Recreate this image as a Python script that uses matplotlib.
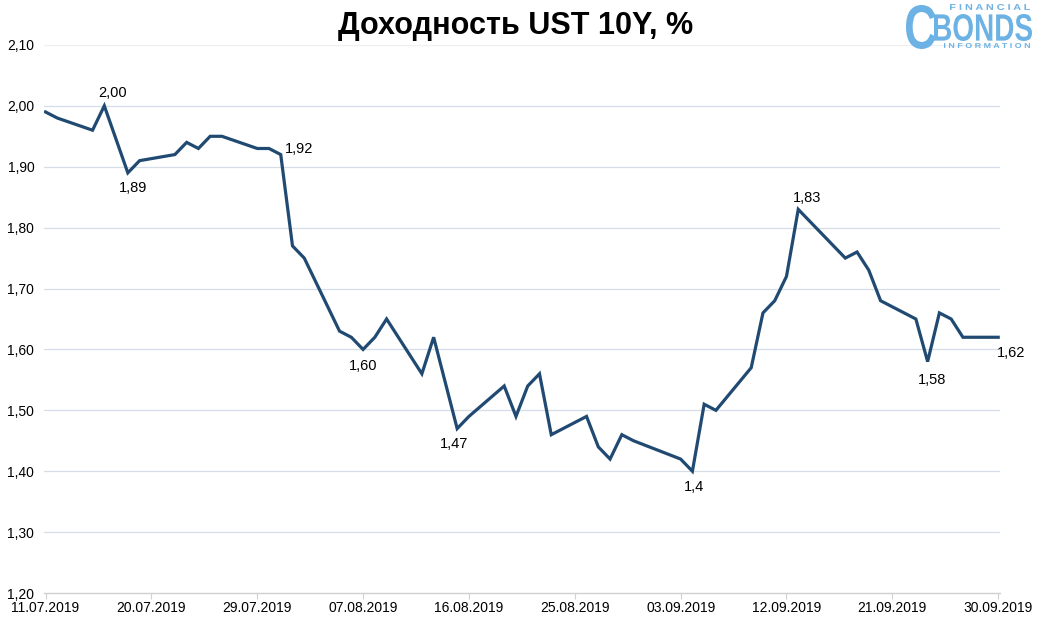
import matplotlib
matplotlib.use("Agg")
import matplotlib.pyplot as plt
import matplotlib.dates as mdates
from matplotlib.ticker import FuncFormatter
from matplotlib.textpath import TextPath
from matplotlib.patches import PathPatch
from matplotlib.font_manager import FontProperties
from matplotlib.transforms import Affine2D, IdentityTransform
import pandas as pd

# UST 10Y yield, business days 11.07.2019 - 30.09.2019
dates = ['11.07', '12.07', '15.07', '16.07', '18.07', '19.07', '22.07', '23.07', '24.07',
         '25.07', '26.07', '29.07', '30.07', '31.07', '01.08', '02.08', '05.08', '06.08',
         '07.08', '08.08', '09.08', '12.08', '13.08', '15.08', '16.08', '19.08', '20.08',
         '21.08', '22.08', '23.08', '26.08', '27.08', '28.08', '29.08', '30.08', '03.09',
         '04.09', '05.09', '06.09', '09.09', '10.09', '11.09', '12.09', '13.09', '17.09',
         '18.09', '19.09', '20.09', '23.09', '24.09', '25.09', '26.09', '27.09', '30.09']
values = [1.99, 1.98, 1.96, 2.00, 1.89, 1.91, 1.92, 1.94, 1.93,
          1.95, 1.95, 1.93, 1.93, 1.92, 1.77, 1.75, 1.63, 1.62,
          1.60, 1.62, 1.65, 1.56, 1.62, 1.47, 1.49, 1.54, 1.49,
          1.54, 1.56, 1.46, 1.49, 1.44, 1.42, 1.46, 1.45, 1.42,
          1.40, 1.51, 1.50, 1.57, 1.66, 1.68, 1.72, 1.83, 1.75,
          1.76, 1.73, 1.68, 1.65, 1.58, 1.66, 1.65, 1.62, 1.62]

# labelled points
label_dates = ['16.07', '18.07', '31.07', '07.08', '15.08', '04.09', '13.09', '24.09', '30.09']
label_texts = ['2,00', '1,89', '1,92', '1,60', '1,47', '1,4', '1,83', '1,58', '1,62']

y_ticks = [1.20, 1.30, 1.40, 1.50, 1.60, 1.70, 1.80, 1.90, 2.00, 2.10]

x = pd.to_datetime([d + '.2019' for d in dates], format='%d.%m.%Y')
val_by_date = dict(zip(dates, values))

plt.rcParams['font.family'] = ['Liberation Sans', 'DejaVu Sans']

W, H = 1041, 620
fig = plt.figure(figsize=(W / 100, H / 100), dpi=100)
ax = fig.add_axes([0.0423, 0.0435, 0.918, 0.884])

line_color = '#214A72'
ax.plot(x, values, color=line_color, linewidth=2.3, solid_joinstyle='miter')

# label offsets in points (dx, dy)
offsets = {
    '16.07': (6, 9), '18.07': (4, -11), '31.07': (13, 4), '07.08': (0, -12),
    '15.08': (-2, -11), '04.09': (1, -11), '13.09': (6, 8), '24.09': (3, -13),
    '30.09': (9, -11),
}
for d, t in zip(label_dates, label_texts):
    xd = pd.to_datetime(d + '.2019', format='%d.%m.%Y')
    ax.annotate(t, (xd, val_by_date[d]), xytext=offsets[d], textcoords='offset points',
                ha='center', va='center', fontsize=10.5, color='black')

ax.set_ylim(1.20, 2.10)
ax.set_yticks(y_ticks)
ax.yaxis.set_major_formatter(FuncFormatter(lambda v, p: f"{v:.2f}".replace('.', ',')))

x_ticks = pd.date_range('2019-07-11', '2019-09-30', freq='9D')
ax.set_xlim(pd.Timestamp('2019-07-10 21:00'), pd.Timestamp('2019-09-30 03:00'))
ax.set_xticks(x_ticks)
ax.xaxis.set_major_formatter(mdates.DateFormatter('%d.%m.%Y'))

for v in y_ticks[1:-1]:
    ax.axhline(v, color='#D5DEE8', linewidth=0.9, zorder=0)
ax.axhline(2.10, color='#EFEFEF', linewidth=0.9, zorder=0)

for s in ['top', 'right', 'left']:
    ax.spines[s].set_visible(False)
ax.spines['bottom'].set_color('#D0D0D0')
ax.spines['bottom'].set_linewidth(1.0)
ax.tick_params(axis='x', length=4, color='#D0D0D0', labelsize=10, pad=2)
ax.tick_params(axis='y', length=0, labelsize=10, pad=7)

fig.text(0.495, 0.958, 'Доходность UST 10Y, %', ha='center', va='center',
         fontsize=22, fontweight='bold')


# logo: text squeezed into pixel boxes (left, top, right, bottom from top-left)
def logo_text(s, box, color, weight='bold'):
    tp = TextPath((0, 0), s, size=1, prop=FontProperties(family='Liberation Sans', weight=weight))
    ext = tp.get_extents()
    l, t, r, b = box
    sx = (r - l) / ext.width
    sy = (b - t) / ext.height
    tr = Affine2D().translate(-ext.x0, -ext.y0).scale(sx, sy).translate(l, H - b)
    fig.patches.append(PathPatch(tr.transform_path(tp), facecolor=color, edgecolor='none',
                                 transform=IdentityTransform(), figure=fig))


logo = '#6CB2E4'
logo_text('C', (906, 5, 936, 49), logo)
logo_text('BONDS', (934, 14, 1032, 41), logo)
logo_text('F I N A N C I A L', (950, 4, 1030, 10), logo)
logo_text('I N F O R M A T I O N', (944, 43, 1030, 48), logo)

fig.savefig('out.png', dpi=100)
